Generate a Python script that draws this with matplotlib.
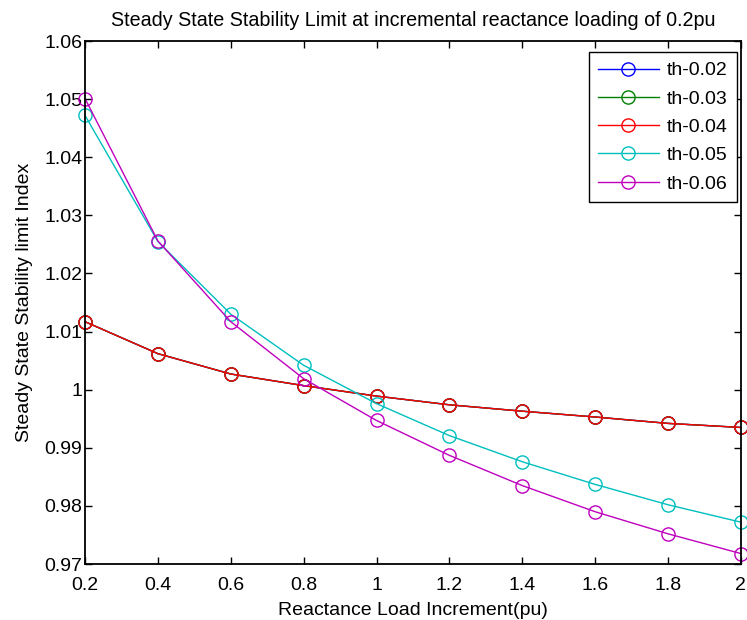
import matplotlib
matplotlib.use("Agg")
import matplotlib.pyplot as plt

plt.rcParams['font.family'] = ['Liberation Sans', 'DejaVu Sans']

x = [0.2, 0.4, 0.6, 0.8, 1.0, 1.2, 1.4, 1.6, 1.8, 2.0]
th_002 = [1.0117, 1.0062, 1.0027, 1.0007, 0.9989, 0.9974, 0.9963, 0.9953, 0.9942, 0.9935]
th_003 = [1.0117, 1.0062, 1.0027, 1.0007, 0.9989, 0.9974, 0.9963, 0.9953, 0.9942, 0.9935]
th_004 = [1.0117, 1.0062, 1.0027, 1.0007, 0.9989, 0.9974, 0.9963, 0.9953, 0.9942, 0.9935]
th_005 = [1.0472, 1.0255, 1.0130, 1.0042, 0.9976, 0.9921, 0.9876, 0.9837, 0.9802, 0.9772]
th_006 = [1.0501, 1.0256, 1.0117, 1.0019, 0.9947, 0.9887, 0.9835, 0.9790, 0.9752, 0.9718]

labels = ['th-0.02', 'th-0.03', 'th-0.04', 'th-0.05', 'th-0.06']
series = [th_002, th_003, th_004, th_005, th_006]
colors = ['#0000ff', '#008000', '#ff0000', '#00bfbf', '#bf00bf']

xticks = [0.2, 0.4, 0.6, 0.8, 1.0, 1.2, 1.4, 1.6, 1.8, 2.0]
xticklabels = ['0.2', '0.4', '0.6', '0.8', '1', '1.2', '1.4', '1.6', '1.8', '2']
yticks = [0.97, 0.98, 0.99, 1.00, 1.01, 1.02, 1.03, 1.04, 1.05, 1.06]
yticklabels = ['0.97', '0.98', '0.99', '1', '1.01', '1.02', '1.03', '1.04', '1.05', '1.06']

fig = plt.figure(figsize=(7.47, 6.2), dpi=100)
ax = fig.add_axes([0.1138, 0.0903, 0.878, 0.8435])

for s, lab, c in zip(series, labels, colors):
    ax.plot(x, s, color=c, marker='o', markersize=9.5, markerfacecolor='none',
            markeredgecolor=c, linewidth=1.0, label=lab, clip_on=False)

ax.set_xlim(0.2, 2.0)
ax.set_ylim(0.97, 1.06)
ax.set_xticks(xticks)
ax.set_xticklabels(xticklabels)
ax.set_yticks(yticks)
ax.set_yticklabels(yticklabels)
ax.tick_params(direction='in', top=True, right=True, labelsize=14, length=5, width=1)
ax.tick_params(axis='x', pad=9)
ax.tick_params(axis='y', pad=2)
for sp in ax.spines.values():
    sp.set_linewidth(1.3)

ax.set_title('Steady State Stability Limit at incremental reactance loading of 0.2pu', fontsize=14.2, pad=11)
ax.set_xlabel('Reactance Load Increment(pu)', fontsize=14, labelpad=6)
ax.set_ylabel('Steady State Stability limit Index', fontsize=14, labelpad=8)

leg = ax.legend(loc='upper right', bbox_to_anchor=(0.994, 0.979), fontsize=14,
                fancybox=False, edgecolor='black', framealpha=1, handlelength=3.1,
                borderpad=0.5, labelspacing=0.55, handletextpad=0.4, borderaxespad=0)
leg.get_frame().set_linewidth(1.0)

fig.savefig('out.png', dpi=100)
